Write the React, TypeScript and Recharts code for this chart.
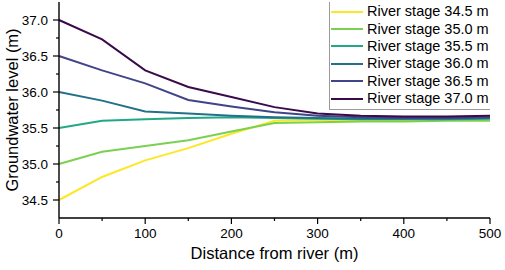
import React from 'react';
import { LineChart, Line, XAxis, YAxis } from 'recharts';

const distances = [0, 50, 100, 150, 200, 250, 300, 350, 400, 450, 500];
const stage345 = [34.5, 34.82, 35.05, 35.22, 35.42, 35.6, 35.61, 35.61, 35.61, 35.62, 35.62];
const stage350 = [35.0, 35.17, 35.25, 35.33, 35.45, 35.57, 35.58, 35.59, 35.59, 35.6, 35.6];
const stage355 = [35.5, 35.6, 35.62, 35.64, 35.65, 35.64, 35.63, 35.62, 35.62, 35.62, 35.63];
const stage360 = [36.0, 35.88, 35.73, 35.7, 35.67, 35.65, 35.64, 35.63, 35.63, 35.63, 35.64];
const stage365 = [36.5, 36.3, 36.12, 35.89, 35.8, 35.72, 35.67, 35.65, 35.64, 35.64, 35.65];
const stage370 = [37.0, 36.73, 36.3, 36.07, 35.93, 35.79, 35.7, 35.67, 35.66, 35.66, 35.67];

const seriesNames = [
  'River stage 34.5 m',
  'River stage 35.0 m',
  'River stage 35.5 m',
  'River stage 36.0 m',
  'River stage 36.5 m',
  'River stage 37.0 m',
];
const seriesValues = [stage345, stage350, stage355, stage360, stage365, stage370];
const seriesColors = ['#fde725', '#7ad151', '#22a884', '#23708a', '#414487', '#3a0a4a'];

const xTicks = [0, 50, 100, 150, 200, 250, 300, 350, 400, 450, 500];
const yTicks = [34.5, 34.75, 35.0, 35.25, 35.5, 35.75, 36.0, 36.25, 36.5, 36.75, 37.0];

const data = distances.map((d, i) => {
  const row: Record<string, number> = { d };
  seriesValues.forEach((vals, k) => {
    row['s' + k] = vals[i];
  });
  return row;
});

const FONT = '"Liberation Sans", Arial, sans-serif';

const YTick = (props: any) => {
  const { x, y, payload } = props;
  const v = payload.value;
  const major = Math.abs(v * 2 - Math.round(v * 2)) < 1e-6;
  return (
    <g>
      <line x1={x - (major ? 6 : 3)} x2={x} y1={y} y2={y} stroke="#000" strokeWidth={1.2} />
      {major && (
        <text x={x - 11} y={y} dy="0.36em" textAnchor="end" fontSize={13.5} fontFamily={FONT} fill="#000">
          {v.toFixed(1)}
        </text>
      )}
    </g>
  );
};

const XTick = (props: any) => {
  const { x, y, payload } = props;
  const v = payload.value;
  const major = v % 100 === 0;
  return (
    <g>
      <line x1={x} x2={x} y1={y} y2={y + (major ? 6 : 3)} stroke="#000" strokeWidth={1.2} />
      {major && (
        <text x={x} y={y + 10} dy="0.71em" textAnchor="middle" fontSize={13.5} fontFamily={FONT} fill="#000">
          {v}
        </text>
      )}
    </g>
  );
};

const LegendBox = () => (
  <div
    style={{
      position: 'absolute',
      left: 329,
      top: 2,
      boxSizing: 'border-box',
      width: 161,
      height: 108,
      border: '1px solid #9a9a9a',
      borderTop: 'none',
      borderRight: 'none',
      background: '#fff',
      paddingTop: 1,
      fontFamily: FONT,
      fontSize: 14.5,
      color: '#000',
    }}
  >
    {seriesNames.map((name, i) => (
      <div key={name} style={{ display: 'flex', alignItems: 'center', height: 17.4, whiteSpace: 'nowrap' }}>
        <div style={{ width: 32, height: 2, background: seriesColors[i], marginLeft: 1, marginRight: 4 }} />
        <span style={{ lineHeight: '17px' }}>{name}</span>
      </div>
    ))}
  </div>
);

export default function App() {
  return (
    <div style={{ position: 'absolute', left: 0, top: 0, width: 505, height: 270, background: '#fff' }}>
      <LineChart width={505} height={270} data={data} margin={{ top: 2, right: 15, left: 0, bottom: 0 }}>
        <XAxis
          dataKey="d"
          type="number"
          domain={[0, 500]}
          ticks={xTicks}
          interval={0}
          tickSize={0}
          tickMargin={0}
          tickLine={false}
          tick={<XTick />}
          height={52}
          axisLine={{ stroke: '#000', strokeWidth: 1.4 }}
          label={{
            position: 'bottom',
            content: () => (
              <text x={274.5} y={253} dominantBaseline="central" textAnchor="middle" fontSize={16.5} fontFamily={FONT} fill="#000">
                Distance from river (m)
              </text>
            ),
          }}
        />
        <XAxis
          xAxisId="top"
          orientation="top"
          dataKey="d"
          type="number"
          domain={[0, 500]}
          height={0}
          tick={false}
          tickLine={false}
          axisLine={{ stroke: '#000', strokeWidth: 1.4 }}
        />
        <YAxis
          type="number"
          domain={[34.25, 37.25]}
          ticks={yTicks}
          interval={0}
          width={59}
          tickSize={0}
          tickMargin={0}
          tickLine={false}
          tick={<YTick />}
          axisLine={{ stroke: '#000', strokeWidth: 1.4 }}
          label={{
            position: 'insideLeft',
            content: () => (
              <text
                x={12}
                y={110}
                transform="rotate(-90 12 110)"
                dominantBaseline="central"
                textAnchor="middle"
                fontSize={16.5}
                fontFamily={FONT}
                fill="#000"
              >
                Groundwater level (m)
              </text>
            ),
          }}
        />
        <YAxis
          yAxisId="right"
          orientation="right"
          type="number"
          domain={[34.25, 37.25]}
          width={0}
          tick={false}
          tickLine={false}
          axisLine={{ stroke: '#000', strokeWidth: 1.4 }}
        />
        {seriesNames.map((name, i) => (
          <Line
            key={name}
            name={name}
            dataKey={'s' + i}
            stroke={seriesColors[i]}
            strokeWidth={2}
            dot={false}
            isAnimationActive={false}
            type="linear"
          />
        ))}
      </LineChart>
      <LegendBox />
    </div>
  );
}
